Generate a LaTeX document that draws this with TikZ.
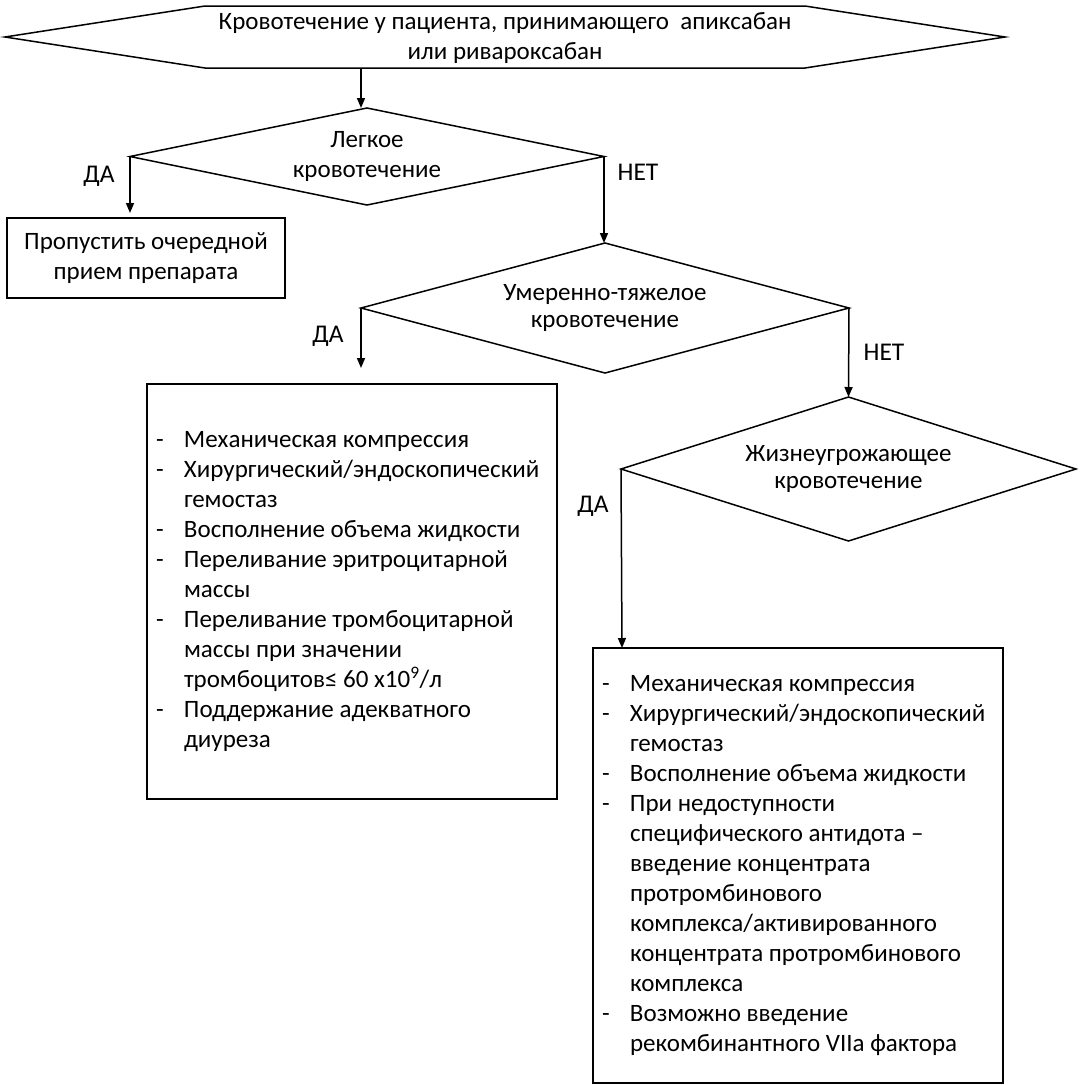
\documentclass[tikz,border=0pt]{standalone}
\usepackage{fontspec}
\setmainfont{Carlito}
\usetikzlibrary{shapes.geometric,arrows.meta}
\newcommand{\dsh}{\makebox[28pt][l]{-}}
\newcommand{\cnt}{\hspace*{28pt}}
\tikzset{
  dec/.style={diamond, draw, line width=1.5pt, inner sep=0pt, outer sep=0pt, align=center, font=\fontsize{25}{27}\selectfont},
  blk/.style={rectangle, draw, line width=1.5pt, inner sep=0pt, outer sep=0pt},
  lst/.style={blk, minimum width=410pt, inner xsep=9pt, text width=392pt, align=flush left, font=\fontsize{25}{30}\selectfont},
  lbl/.style={font=\fontsize{25.5}{28}\selectfont},
  arr/.style={-{Triangle[length=10pt,width=8pt]}, line width=1.5pt},
}
\begin{document}
\begin{tikzpicture}[x=1pt,y=-1pt]
\useasboundingbox (0,0) rectangle (1080,1085);
% start
\coordinate (hw) at (5,37);
\coordinate (hnw) at (205,6);
\coordinate (hne) at (805,6);
\coordinate (he) at (1005,37);
\coordinate (hse) at (805,68);
\coordinate (hsw) at (205,68);
\draw[line width=1.5pt, line join=miter] (hw) -- (hnw) -- (hne) -- (he) -- (hse) -- (hsw) -- cycle;
\node[align=center, font=\fontsize{25}{30}\selectfont] (start) at (505,38) {Кровотечение у пациента, принимающего\ \ апиксабан\\или ривароксабан};
\coordinate (hout) at (361,68);
% decisions
\node[dec, font=\fontsize{25}{30}\selectfont, minimum width=474pt, minimum height=97pt, aspect=4.9] (legk) at (367,156.5) {Легкое\\кровотечение};
\node[dec, minimum width=488pt, minimum height=130pt, aspect=3.75] (moder) at (605,308) {Умеренно-тяжелое\\кровотечение};
\node[dec, minimum width=455pt, minimum height=144pt, aspect=3.16] (life) at (848.5,469) {Жизнеугрожающее\\кровотечение};
% actions
\node[blk, minimum width=278pt, minimum height=80pt, align=center, font=\fontsize{25}{30}\selectfont] (skip) at (146,258) {Пропустить очередной\\прием препарата};
\node[lst, minimum height=415pt] (treat) at (352,591.5) {%
\dsh Механическая компрессия\\
\dsh Хирургический/эндоскопический\\
\cnt гемостаз\\
\dsh Восполнение объема жидкости\\
\dsh Переливание эритроцитарной\\
\cnt массы\\
\dsh Переливание тромбоцитарной\\
\cnt массы при значении\\
\cnt тромбоцитов≤ 60 х10\textsuperscript{9}/л\\
\dsh Поддержание адекватного\\
\cnt диуреза};
\node[lst, minimum height=435pt] (crit) at (798,865.5) {%
\dsh Механическая компрессия\\
\dsh Хирургический/эндоскопический\\
\cnt гемостаз\\
\dsh Восполнение объема жидкости\\
\dsh При недоступности\\
\cnt специфического антидота –\\
\cnt введение концентрата\\
\cnt протромбинового\\
\cnt комплекса/активированного\\
\cnt концентрата протромбинового\\
\cnt комплекса\\
\dsh Возможно введение\\
\cnt рекомбинантного VIIa фактора};
% labels
\node[lbl] (da1) at (99,176) {ДА};
\node[lbl] (net1) at (638,172) {НЕТ};
\node[lbl] (da2) at (328,336) {ДА};
\node[lbl] (net2) at (884,352) {НЕТ};
\node[lbl] (da3) at (593,506) {ДА};
% arrows
\draw[arr] (hout) -- (hout |- legk.north);
\draw[arr, shorten >=5pt] (legk.west) -- (legk.west |- skip.north);
\draw[arr] (legk.east) -- (legk.east |- moder.north);
\draw[arr, shorten >=16pt] (moder.west) -- (moder.west |- treat.north);
\draw[arr] (moder.east) -- (life.north);
\draw[arr] (life.west) -- ([xshift=29pt]crit.north west);
\end{tikzpicture}
\end{document}
